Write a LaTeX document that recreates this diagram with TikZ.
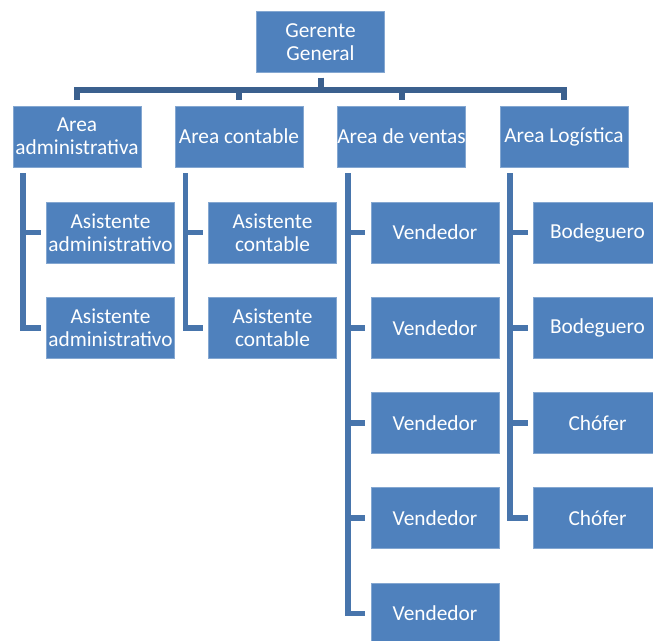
\documentclass[tikz,border=0pt]{standalone}
\usepackage{fontspec}
\setmainfont{Carlito}
\definecolor{boxblue}{RGB}{79,129,189}
\definecolor{busblue}{RGB}{59,96,142}
\definecolor{barblue}{RGB}{72,117,172}
\begin{document}
\begin{tikzpicture}[x=0.75pt, y=-0.75pt,
        every node/.style={rectangle, fill=boxblue, draw=boxblue!70!white, line width=0.4pt, text=white,
            minimum width=96pt, minimum height=45.75pt, inner sep=0pt, align=center,
            font=\fontsize{16pt}{17.5pt}\selectfont},
        bus/.style={draw=busblue, line width=4.5pt, shorten <=3.75pt, shorten >=4.5pt},
        bar/.style={draw=barblue, line width=4.2pt, shorten <=4.5pt, shorten >=4.1pt}]
        \useasboundingbox (0,0) rectangle (653,641);
        % top
        \node (gg) at (320.5,42) {Gerente\\General};
        % areas
        \node (a1) at (77,136.5) {Area\\administrativa};
        \node (a2) at (239,136.5) {Area contable};
        \node (a3) at (401.5,136.5) {Area de ventas};
        \node (a4) at (564,136.5) {Area Log\'istica};
        % assistants
        \node (s1a) at (110.5,232.5) {Asistente\\administrativo};
        \node (s1b) at (110.5,327.75) {Asistente\\administrativo};
        \node (s2a) at (272.5,232.5) {Asistente\\contable};
        \node (s2b) at (272.5,327.75) {Asistente\\contable};
        % sales
        \foreach \i in {1,...,5}
            \node (v\i) at (435,232.5+95.25*\i-95.25) {Vendedor};
        % logistics
        \node (l1) at (597.5,232.5) {Bodeguero};
        \node (l2) at (597.5,327.75) {Bodeguero};
        \node (l3) at (597.5,423) {Ch\'ofer};
        \node (l4) at (597.5,518.25) {Ch\'ofer};
        % connectors
        \foreach \a in {a1,a2,a3,a4}
            \draw[bus] (gg.south) -- ++(0,17) -| (\a.north);
        \foreach \s in {s1a,s1b}
            \draw[bar] ([xshift=7.6pt]a1.south west) |- (\s.west);
        \foreach \s in {s2a,s2b}
            \draw[bar] ([xshift=8.1pt]a2.south west) |- (\s.west);
        \foreach \i in {1,...,5}
            \draw[bar] ([xshift=8.1pt]a3.south west) |- (v\i.west);
        \foreach \i in {1,...,4}
            \draw[bar] ([xshift=7.6pt]a4.south west) |- (l\i.west);
\end{tikzpicture}
\end{document}
